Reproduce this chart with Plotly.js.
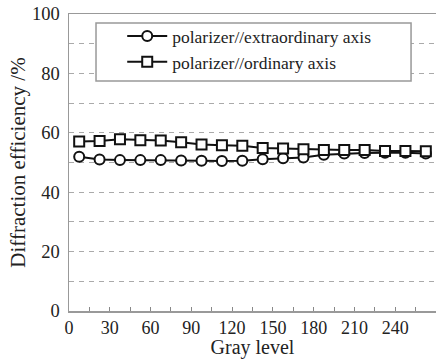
<!DOCTYPE html>
<html>
<head>
<meta charset="utf-8">
<script src="https://cdn.plot.ly/plotly-3.0.1.min.js"></script>
<style>html,body{margin:0;padding:0;background:#fff;}#chart{width:436px;height:359px;}</style>
</head>
<body>
<div id="chart"></div>
<script>
const grayLevel = [7.5, 22.5, 37.5, 52.5, 67.5, 82.5, 97.5, 112.5, 127.5, 142.5, 157.5, 172.5, 187.5, 202.5, 217.5, 232.5, 247.5, 262.5];
const extraordinary = [51.9, 51.0, 50.8, 50.8, 50.8, 50.7, 50.6, 50.5, 50.6, 51.1, 51.4, 51.7, 52.6, 53.0, 53.2, 53.3, 53.3, 53.0];
const ordinary = [57.1, 57.2, 57.8, 57.5, 57.4, 56.8, 56.1, 55.8, 55.6, 54.9, 54.7, 54.5, 54.2, 54.2, 54.2, 53.9, 53.9, 53.8];
const seriesNames = ['polarizer//extraordinary axis', 'polarizer//ordinary axis'];
const xTicks = [0, 30, 60, 90, 120, 150, 180, 210, 240];
const yTicks = [0, 20, 40, 60, 80, 100];
const xTitle = 'Gray level';
const yTitle = 'Diffraction efficiency /%';

const serif = 'Liberation Serif';
const traces = [
  {x: grayLevel, y: extraordinary, name: seriesNames[0], type: 'scatter', mode: 'lines+markers',
   line: {color: '#111', width: 2},
   marker: {symbol: 'circle', size: 10, color: '#fff', line: {color: '#111', width: 2}}},
  {x: grayLevel, y: ordinary, name: seriesNames[1], type: 'scatter', mode: 'lines+markers',
   line: {color: '#111', width: 2},
   marker: {symbol: 'square', size: 10, color: '#fff', line: {color: '#111', width: 2}}}
];
const layout = {
  width: 436, height: 359,
  margin: {l: 69, r: 0, t: 14, b: 48},
  paper_bgcolor: '#fff', plot_bgcolor: '#fff',
  font: {family: serif, color: '#222', size: 18},
  xaxis: {range: [0, 270], tickvals: xTicks, ticks: 'inside', ticklen: 4, tickcolor: '#888', tickwidth: 1,
    minor: {dtick: 15, tick0: 0, ticks: 'inside', ticklen: 4, tickcolor: '#888', tickwidth: 1},
    showline: true, linecolor: '#999', linewidth: 1.5, mirror: true, showgrid: false, zeroline: false,
    tickfont: {family: serif, size: 18, color: '#222'},
    title: {text: xTitle, font: {family: serif, size: 20, color: '#222'}, standoff: 5}},
  yaxis: {range: [0, 100], tickvals: yTicks, ticks: '', showline: true, linecolor: '#999', linewidth: 1.5,
    showgrid: true, gridcolor: '#aaa', griddash: '5px,5px', gridwidth: 1, zeroline: false,
    minor: {dtick: 10, tick0: 0, showgrid: true, gridcolor: '#aaa', griddash: '5px,5px', gridwidth: 1},
    tickfont: {family: serif, size: 18.5, color: '#222'}, ticklabelstandoff: 4,
    title: {text: yTitle, font: {family: serif, size: 21, color: '#222'}, standoff: 0}},
  shapes: [{type: 'rect', xref: 'paper', yref: 'paper', x0: 0.0736, x1: 0.932, y0: 0.774, y1: 0.970,
    fillcolor: '#fff', line: {color: '#999', width: 1.5}, layer: 'above'}],
  legend: {x: 0.145, y: 0.986, xanchor: 'left', yanchor: 'top', bgcolor: 'rgba(0,0,0,0)', borderwidth: 0,
    font: {family: serif, size: 17.5, color: '#222'}, itemwidth: 40},
  showlegend: true
};
Plotly.newPlot('chart', traces, layout, {displayModeBar: false, staticPlot: true});
</script>
</body>
</html>
